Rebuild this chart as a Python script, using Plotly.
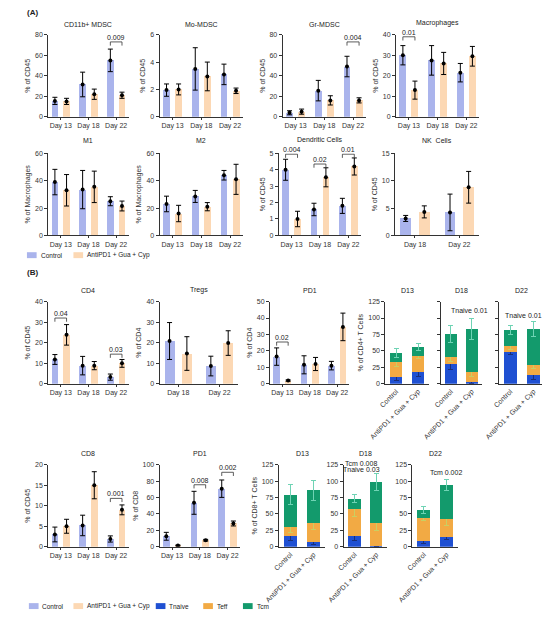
import plotly.graph_objects as go

# ---- values (mean and SD) ----
days3 = ["Day 13", "Day 18", "Day 22"]
days2 = ["Day 18", "Day 22"]
groups = ["Control", "AntiPD1 + Gua + Cyp"]

cd11b_ctrl = [15.5, 31.5, 55]
cd11b_ctrl_sd = [3.5, 12, 11]
cd11b_anti = [15, 22, 21]
cd11b_anti_sd = [3, 5, 3]

mo_ctrl = [1.95, 3.5, 3.1]
mo_ctrl_sd = [0.45, 1.55, 0.75]
mo_anti = [2.0, 2.95, 1.9]
mo_anti_sd = [0.4, 1.05, 0.2]

gr_ctrl = [3.9, 25.5, 49]
gr_ctrl_sd = [2, 10, 10]
gr_anti = [5, 16, 16]
gr_anti_sd = [2.5, 4.5, 2.5]

mac_ctrl = [30, 27.5, 21.5]
mac_ctrl_sd = [4.7, 7.2, 4.5]
mac_anti = [13, 26, 29.5]
mac_anti_sd = [4.4, 5.4, 4.8]

m1_ctrl = [39, 33.5, 25]
m1_ctrl_sd = [9.3, 14, 3.3]
m1_anti = [33, 35.5, 21.5]
m1_anti_sd = [11.5, 11.5, 3.6]

m2_ctrl = [23, 28.5, 44]
m2_ctrl_sd = [5.7, 4.4, 3.5]
m2_anti = [16, 21, 41]
m2_anti_sd = [6, 3, 11]

dc_ctrl = [4.0, 1.58, 1.8]
dc_ctrl_sd = [0.64, 0.38, 0.46]
dc_anti = [1.0, 3.54, 4.2]
dc_anti_sd = [0.47, 0.58, 0.52]

nk_ctrl = [3.1, 4.2]
nk_ctrl_sd = [0.55, 3.35]
nk_anti = [4.3, 8.8]
nk_anti_sd = [1.1, 2.9]

cd4_ctrl = [11.8, 8.8, 3.2]
cd4_ctrl_sd = [2.4, 4.5, 1.5]
cd4_anti = [23.8, 8.8, 9.9]
cd4_anti_sd = [5, 2, 1.9]

treg_ctrl = [20.8, 8.6]
treg_ctrl_sd = [9, 4.8]
treg_anti = [14.7, 19.8]
treg_anti_sd = [8.2, 6]

pd1cd4_ctrl = [16.5, 11.5, 11]
pd1cd4_ctrl_sd = [5.3, 5.5, 2.6]
pd1cd4_anti = [1.9, 12, 34.6]
pd1cd4_anti_sd = [0.4, 4, 8.4]

cd8_ctrl = [3, 5.2, 1.9]
cd8_ctrl_sd = [1.8, 2.5, 0.75]
cd8_anti = [5, 15, 9]
cd8_anti_sd = [1.7, 3.3, 1.2]

pd1cd8_ctrl = [12.8, 53.6, 70.8]
pd1cd8_ctrl_sd = [4.8, 14, 10.6]
pd1cd8_anti = [1.6, 8, 28.4]
pd1cd8_anti_sd = [0.5, 1, 3]

# stacked subsets, per group [Control, AntiPD1 + Gua + Cyp]
cd4_d13_tnaive = [9.5, 18.5]
cd4_d13_tnaive_sd = [4.5, 8]
cd4_d13_teff = [24, 23.5]
cd4_d13_teff_sd = [7, 3.5]
cd4_d13_tcm = [13.5, 13.5]
cd4_d13_tcm_sd = [6.5, 5.5]

cd4_d18_tnaive = [30, 2]
cd4_d18_tnaive_sd = [9, 1]
cd4_d18_teff = [10, 15.5]
cd4_d18_teff_sd = [6, 6]
cd4_d18_tcm = [35.5, 66]
cd4_d18_tcm_sd = [13, 16.5]

cd4_d22_tnaive = [48, 13.5]
cd4_d22_tnaive_sd = [4, 7]
cd4_d22_teff = [9, 15]
cd4_d22_teff_sd = [5.5, 6]
cd4_d22_tcm = [25, 55]
cd4_d22_tcm_sd = [6.5, 11.5]

cd8_d13_tnaive = [16, 8]
cd8_d13_tnaive_sd = [6, 4]
cd8_d13_teff = [14, 28.5]
cd8_d13_teff_sd = [7.5, 9.5]
cd8_d13_tcm = [49.5, 49.5]
cd8_d13_tcm_sd = [15.5, 15]

cd8_d18_tnaive = [16, 1]
cd8_d18_tnaive_sd = [7, 0.5]
cd8_d18_teff = [41, 35.5]
cd8_d18_teff_sd = [11.5, 12]
cd8_d18_tcm = [16, 61.5]
cd8_d18_tcm_sd = [6, 13]

cd8_d22_tnaive = [9.5, 15]
cd8_d22_tnaive_sd = [4, 4]
cd8_d22_teff = [34, 27]
cd8_d22_teff_sd = [3.5, 10]
cd8_d22_tcm = [12.5, 52]
cd8_d22_tcm_sd = [6, 8]

# ---- styling ----
PAGE_W, PAGE_H = 550, 617
PAD = 8  # default body margin of the html page
W, H = PAGE_W - PAD, PAGE_H - PAD
FONT = "Liberation Sans"
CTRL = "#aab4ec"
ANTI = "#fcd8b4"
TN = "#1f50d2"
TE = "#f2aa44"
TC = "#139a6c"
TN_ERR = "#1a2f7a"
TE_ERR = "#c9cf62"
TC_ERR = "#6fd3b4"
AX = "#333333"
OFF = 0.21
BW = 0.24


def fx(px):
    return (px - PAD) / W


def fy(py):
    return 1 - (py - PAD) / H


fig = go.Figure()
layout = {}
annots = []
shapes = []
n_ax = [0]


def new_axes(title, xpx, ypx, ymax, dtick, ytitle, tshift, show_ylab=True):
    n_ax[0] += 1
    k = n_ax[0]
    xn = "xaxis" if k == 1 else "xaxis%d" % k
    yn = "yaxis" if k == 1 else "yaxis%d" % k
    xr = "x" if k == 1 else "x%d" % k
    yr = "y" if k == 1 else "y%d" % k
    layout[xn] = dict(domain=[fx(xpx[0]), fx(xpx[1])], anchor=yr, showline=True,
                      linecolor=AX, linewidth=1, ticks="outside", ticklen=2,
                      tickcolor=AX, tickfont=dict(size=7, color=AX),
                      showgrid=False, zeroline=False)
    layout[yn] = dict(domain=[fy(ypx[1]), fy(ypx[0])], anchor=xr,
                      range=[0, ymax], tick0=0, dtick=dtick, showline=True,
                      linecolor=AX, linewidth=1, ticks="outside", ticklen=3,
                      tickcolor=AX, tickfont=dict(size=7, color=AX),
                      showticklabels=show_ylab, showgrid=False, zeroline=False,
                      title=dict(text=ytitle, font=dict(size=7, color=AX), standoff=3))
    annots.append(dict(text=title, xref=xr + " domain", yref=yr + " domain", x=0.5, y=1,
                       xanchor="center", yanchor="bottom", yshift=tshift, showarrow=False,
                       font=dict(size=7, color="#222")))
    return xr, yr, xn, yn


def grouped(title, cats, ctrl, ctrl_sd, anti, anti_sd, xpx, ypx, ymax, dtick, ytitle, tshift, brackets=()):
    xr, yr, xn, yn = new_axes(title, xpx, ypx, ymax, dtick, ytitle, tshift)
    idx = list(range(len(cats)))
    for vals, sd, color, shift in ((ctrl, ctrl_sd, CTRL, -OFF), (anti, anti_sd, ANTI, OFF)):
        xs = [i + shift for i in idx]
        fig.add_bar(x=xs, y=vals, width=BW, marker=dict(color=color, line_width=0),
                    xaxis=xr, yaxis=yr, showlegend=False)
        fig.add_scatter(x=xs, y=vals, mode="markers", marker=dict(color="black", size=4),
                        error_y=dict(type="data", array=sd, color="black", thickness=1, width=2.5),
                        xaxis=xr, yaxis=yr, showlegend=False)
    layout[xn].update(tickvals=idx, ticktext=cats, range=[-0.45, len(cats) - 0.55])
    tick = ymax * 0.045
    for i, level, txt in brackets:
        x0, x1 = i - OFF, i + OFF
        shapes.append(dict(type="path", xref=xr, yref=yr,
                           path="M %f,%f L %f,%f L %f,%f L %f,%f" % (x0, level - tick, x0, level, x1, level, x1, level - tick),
                           line=dict(color=AX, width=0.8)))
        annots.append(dict(text=txt, x=i, y=level, xref=xr, yref=yr, xanchor="center",
                           yanchor="bottom", yshift=-1, showarrow=False, font=dict(size=7, color="#222")))


def stacked(title, parts, xpx, ypx, ytitle, show_ylab, notes=()):
    xr, yr, xn, yn = new_axes(title, xpx, ypx, 125, 25, ytitle, 6, show_ylab)
    for vals, sd, color, ecolor in parts:
        fig.add_bar(x=groups, y=vals, width=0.56, marker=dict(color=color, line_width=0),
                    error_y=dict(type="data", array=sd, color=ecolor, thickness=1, width=2.5),
                    xaxis=xr, yaxis=yr, showlegend=False)
    layout[xn].update(tickangle=-45, ticks="", range=[-0.5, 1.5])
    # notes are placed in axis-domain fractions so they may sit above the plot top
    for x, y, txt, anchor in notes:
        annots.append(dict(text=txt, x=x, y=y, xref=xr + " domain", yref=yr + " domain", xanchor=anchor,
                           yanchor="middle", showarrow=False, font=dict(size=7, color="#222")))


# ---- panel A ----
rA1 = (31, 114)
rA2 = (151, 234)
grouped("CD11b+ MDSC", days3, cd11b_ctrl, cd11b_ctrl_sd, cd11b_anti, cd11b_anti_sd,
        (32, 115), rA1, 80, 20, "% of CD45", 5, [(2, 73, "0.009")])
grouped("Mo-MDSC", days3, mo_ctrl, mo_ctrl_sd, mo_anti, mo_anti_sd,
        (147, 233), rA1, 6, 2, "% of CD45", 5)
grouped("Gr-MDSC", days3, gr_ctrl, gr_ctrl_sd, gr_anti, gr_anti_sd,
        (274, 360), rA1, 80, 20, "% of CD45", 5, [(2, 73, "0.004")])
grouped("Macrophages", days3, mac_ctrl, mac_ctrl_sd, mac_anti, mac_anti_sd,
        (391, 477), rA1, 40, 10, "% of CD45", 6, [(0, 39, "0.01")])
grouped("M1", days3, m1_ctrl, m1_ctrl_sd, m1_anti, m1_anti_sd,
        (32, 115), rA2, 60, 20, "% of Macrophages", 7)
grouped("M2", days3, m2_ctrl, m2_ctrl_sd, m2_anti, m2_anti_sd,
        (147, 233), rA2, 60, 20, "% of Macrophages", 7)
grouped("Dendritic Cells", days3, dc_ctrl, dc_ctrl_sd, dc_anti, dc_anti_sd,
        (270, 355), rA2, 5, 1, "% of CD45", 8,
        [(0, 4.95, "0.004"), (1, 4.35, "0.02"), (2, 4.95, "0.01")])
grouped("NK  Cells", days2, nk_ctrl, nk_ctrl_sd, nk_anti, nk_anti_sd,
        (390, 477), rA2, 15, 5, "% of CD45", 7)

# ---- panel B ----
rB1 = (301, 384)
rB2 = (466, 549)
grouped("CD4", days3, cd4_ctrl, cd4_ctrl_sd, cd4_anti, cd4_anti_sd,
        (32, 115), rB1, 40, 10, "% of CD45", 6, [(0, 32, "0.04"), (2, 14.4, "0.03")])
grouped("Tregs", days2, treg_ctrl, treg_ctrl_sd, treg_anti, treg_anti_sd,
        (147, 228), rB1, 40, 10, "% of CD4", 6)
grouped("PD1", days3, pd1cd4_ctrl, pd1cd4_ctrl_sd, pd1cd4_anti, pd1cd4_anti_sd,
        (261, 343), rB1, 50, 10, "% of CD4", 6, [(0, 25.4, "0.02")])
stacked("D13", [(cd4_d13_tnaive, cd4_d13_tnaive_sd, TN, TN_ERR),
                (cd4_d13_teff, cd4_d13_teff_sd, TE, TE_ERR),
                (cd4_d13_tcm, cd4_d13_tcm_sd, TC, TC_ERR)],
        (380, 425), rB1, "% of CD4+ T Cells", True)
stacked("D18", [(cd4_d18_tnaive, cd4_d18_tnaive_sd, TN, TN_ERR),
                (cd4_d18_teff, cd4_d18_teff_sd, TE, TE_ERR),
                (cd4_d18_tcm, cd4_d18_tcm_sd, TC, TC_ERR)],
        (437, 480), rB1, "", False, [(0.70, 0.89, "Tnaive 0.01", "center")])
stacked("D22", [(cd4_d22_tnaive, cd4_d22_tnaive_sd, TN, TN_ERR),
                (cd4_d22_teff, cd4_d22_teff_sd, TE, TE_ERR),
                (cd4_d22_tcm, cd4_d22_tcm_sd, TC, TC_ERR)],
        (497, 545), rB1, "", False, [(0.97, 0.836, "Tnaive 0.01", "right")])

grouped("CD8", days3, cd8_ctrl, cd8_ctrl_sd, cd8_anti, cd8_anti_sd,
        (32, 115), rB2, 20, 5, "% of CD45", 6, [(2, 11.8, "0.001")])
grouped("PD1", days3, pd1cd8_ctrl, pd1cd8_ctrl_sd, pd1cd8_anti, pd1cd8_anti_sd,
        (147, 230), rB2, 100, 20, "% of CD8", 6, [(1, 75.6, "0.008"), (2, 90.8, "0.002")])
stacked("D13", [(cd8_d13_tnaive, cd8_d13_tnaive_sd, TN, TN_ERR),
                (cd8_d13_teff, cd8_d13_teff_sd, TE, TE_ERR),
                (cd8_d13_tcm, cd8_d13_tcm_sd, TC, TC_ERR)],
        (270, 318), rB2, "% of CD8+ T Cells", True)
stacked("D18", [(cd8_d18_tnaive, cd8_d18_tnaive_sd, TN, TN_ERR),
                (cd8_d18_teff, cd8_d18_teff_sd, TE, TE_ERR),
                (cd8_d18_tcm, cd8_d18_tcm_sd, TC, TC_ERR)],
        (337, 382), rB2, "", True,
        [(0.40, 1.02, "Tcm 0.008", "center"), (0.40, 0.945, "Tnaive 0.03", "center")])
stacked("D22", [(cd8_d22_tnaive, cd8_d22_tnaive_sd, TN, TN_ERR),
                (cd8_d22_teff, cd8_d22_teff_sd, TE, TE_ERR),
                (cd8_d22_tcm, cd8_d22_tcm_sd, TC, TC_ERR)],
        (408, 455), rB2, "", True, [(0.74, 0.905, "Tcm 0.002", "center")])

# ---- panel letters and hand-placed legends ----
for txt, ypos in (("(A)", 9), ("(B)", 272)):
    annots.append(dict(text="<b>" + txt + "</b>", xref="paper", yref="paper", x=fx(8), y=fy(ypos),
                       xanchor="left", yanchor="middle", showarrow=False, font=dict(size=8, color="#222")))

legend_a = [("Control", CTRL, 10), ("AntiPD1 + Gua + Cyp", ANTI, 58)]
legend_b = [("Control", CTRL, 12), ("AntiPD1 + Gua + Cyp", ANTI, 58), ("Tnaive", TN, 143),
            ("Teff", TE, 192), ("Tcm", TC, 233)]
for items, ypos in ((legend_a, 254), (legend_b, 609)):
    for label, color, x0 in items:
        shapes.append(dict(type="rect", xref="paper", yref="paper", x0=fx(x0), x1=fx(x0 + 10),
                           y0=fy(ypos + 3), y1=fy(ypos - 3), fillcolor=color, line_width=0))
        annots.append(dict(text=label, xref="paper", yref="paper", x=fx(x0 + 12), y=fy(ypos),
                           xanchor="left", yanchor="middle", showarrow=False, font=dict(size=6.5, color="#222")))

fig.update_layout(width=W, height=H, margin=dict(l=0, r=0, t=0, b=0),
                  paper_bgcolor="white", plot_bgcolor="white",
                  font=dict(family=FONT, size=7, color="#222"),
                  barmode="stack", showlegend=False,
                  annotations=annots, shapes=shapes, **layout)

fig.write_html("out.html")
